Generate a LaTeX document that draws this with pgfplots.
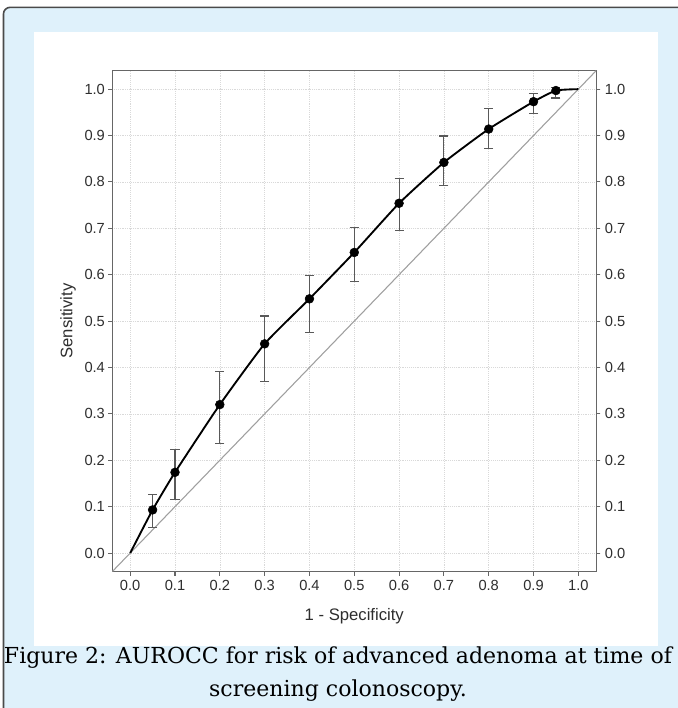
\documentclass[border=0pt]{standalone}
\usepackage{fontspec}
\setmainfont{Liberation Sans}
\newfontfamily\capfont{DejaVu Serif}
\usepackage{pgfplots}
\usepackage{pgfplotstable}
\pgfplotsset{compat=1.18}

\definecolor{capblue}{HTML}{DFF1FB}
\definecolor{framegray}{HTML}{4A4A4A}
\definecolor{axgray}{HTML}{666666}
\definecolor{labgray}{HTML}{2E2E2E}

% ROC points with CI (plus / minus)
\pgfplotstableread{
x    y     ep     em
0.05 0.093 0.033 0.037
0.10 0.174 0.050 0.059
0.20 0.320 0.071 0.083
0.30 0.451 0.060 0.081
0.40 0.548 0.050 0.072
0.50 0.648 0.054 0.062
0.60 0.754 0.054 0.059
0.70 0.842 0.057 0.050
0.80 0.914 0.044 0.042
0.90 0.973 0.017 0.026
0.95 0.997 0.006 0.016
}\rocpts

\newsavebox\capbox
\sbox\capbox{\capfont\fontsize{15}{18}\selectfont Figure 2: AUROCC for risk of advanced adenoma at time of}

\begin{document}
\begin{tikzpicture}
\pgfmathsetmacro\capscale{501/\wd\capbox}
\useasboundingbox (0,0) rectangle (508.5pt,531pt);
\clip (0,0) rectangle (508.5pt,531pt);
\filldraw[fill=capblue, draw=framegray, line width=1.2pt, rounded corners=5pt]
  (2.6pt,-20pt) rectangle (530pt,525.5pt);
\fill[white] (25.3pt,46.5pt) rectangle (493.3pt,506.8pt);

\begin{axis}[
  at={(84.2pt,102.3pt)}, anchor=south west,
  scale only axis, width=363pt, height=375.75pt,
  xmin=-0.04, xmax=1.04, ymin=-0.04, ymax=1.04,
  xtick={0,0.1,0.2,0.3,0.4,0.5,0.6,0.7,0.8,0.9,1},
  ytick={0,0.1,0.2,0.3,0.4,0.5,0.6,0.7,0.8,0.9,1},
  xtick pos=left, ytick pos=both, yticklabel pos=left,
  tick align=outside, major tick length=3pt,
  /pgf/number format/assume math mode=true,
  /pgf/number format/fixed, /pgf/number format/fixed zerofill,
  /pgf/number format/precision=1,
  ticklabel style={font=\fontsize{11}{13}\selectfont, text=labgray},
  yticklabel style={xshift=1pt},
  grid=major, grid style={densely dotted, gray!30},
  axis line style={axgray, line width=0.9pt},
  tick style={axgray, line width=0.8pt},
  xlabel={1 - Specificity}, ylabel={Sensitivity},
  label style={font=\fontsize{12.5}{14}\selectfont, text=labgray},
  xlabel style={at={(axis description cs:0.5,-0.0898)}, anchor=center},
  ylabel style={at={(axis description cs:-0.0915,0.5)}, anchor=center},
]
\addplot[gray!75, line width=0.8pt] coordinates {(-0.04,-0.04) (1.04,1.04)};
\addplot[black, line width=1.4pt, smooth, tension=0.3] coordinates {
  (0,0) (0.05,0.093) (0.10,0.174) (0.20,0.320) (0.30,0.451) (0.40,0.548)
  (0.50,0.648) (0.60,0.754) (0.70,0.842) (0.80,0.914) (0.90,0.973)
  (0.95,0.997) (1.0,1.0)};
\addplot[only marks, mark=*, mark size=3.3pt, black,
  error bars/.cd, y dir=both, y explicit,
  error bar style={gray!70!black, line width=0.8pt},
  error mark options={rotate=90, mark size=3.4pt, gray!70!black, line width=0.8pt}]
  table[x=x, y=y, y error plus=ep, y error minus=em] {\rocpts};
\end{axis}

\begin{axis}[
  at={(84.2pt,102.3pt)}, anchor=south west,
  scale only axis, width=363pt, height=375.75pt,
  xmin=-0.04, xmax=1.04, ymin=-0.04, ymax=1.04,
  hide x axis, axis y line*=right,
  ytick={0,0.1,0.2,0.3,0.4,0.5,0.6,0.7,0.8,0.9,1},
  tick align=outside, major tick length=3pt,
  /pgf/number format/assume math mode=true,
  /pgf/number format/fixed, /pgf/number format/fixed zerofill,
  /pgf/number format/precision=1,
  ticklabel style={font=\fontsize{11}{13}\selectfont, text=labgray},
  axis line style={axgray, line width=0.9pt},
  tick style={axgray, line width=0.8pt},
]
\end{axis}

\node[anchor=base] at (253.5pt,33pt) {\scalebox{\capscale}{\usebox\capbox}};
\node[anchor=base] at (253.5pt,8.25pt) {\scalebox{\capscale}{\capfont\fontsize{15}{18}\selectfont screening colonoscopy.}};
\end{tikzpicture}
\end{document}
